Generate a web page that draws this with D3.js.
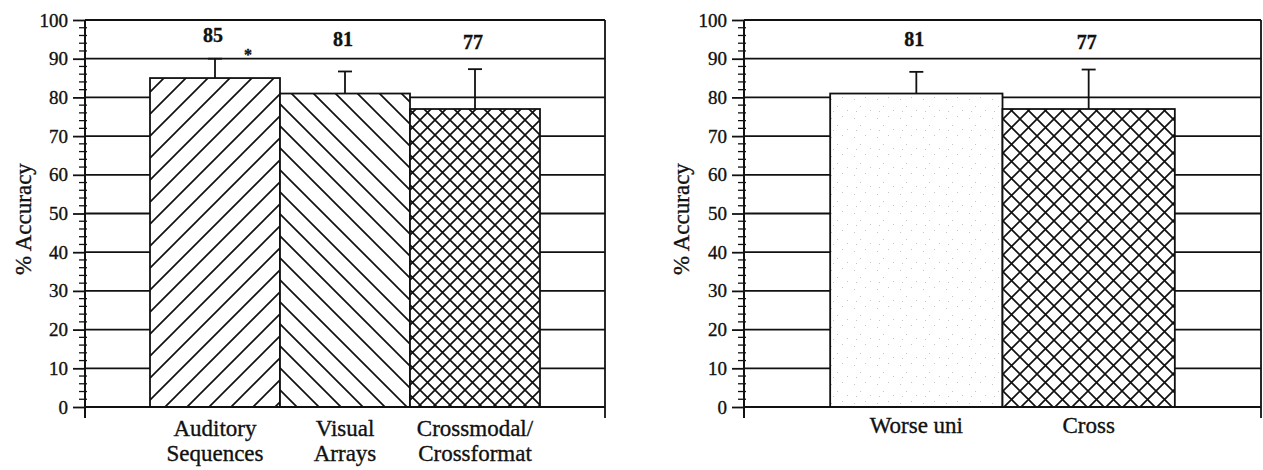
<!DOCTYPE html>
<html>
<head>
<meta charset="utf-8">
<script src="https://cdn.jsdelivr.net/npm/d3@7"></script>
<style>
  body { margin: 0; background: #fff; }
  svg { display: block; }
  svg text { font-family: "Liberation Serif", Tinos, "Times New Roman", Times, "DejaVu Serif", serif !important; fill: #111; stroke: #111; stroke-width: 0.35px; }
</style>
</head>
<body>
<svg id="chart" width="1263" height="470"></svg>
<script>
// data
const leftCategories = [["Auditory", "Sequences"], ["Visual", "Arrays"], ["Crossmodal/", "Crossformat"]];
const leftValues = [85, 81, 77];
const leftErrors = [5, 5.7, 10.3];
const leftFills = ["hatchUp", "hatchDown", "cross"];

const rightCategories = [["Worse uni"], ["Cross"]];
const rightValues = [81, 77];
const rightErrors = [5.6, 10.2];
const rightFills = ["speckle", "cross2"];

const yTicks = [0, 10, 20, 30, 40, 50, 60, 70, 80, 90, 100];
const yMinor = d3.range(0, 101, 2).filter(d => d % 10 !== 0);

const svg = d3.select("#chart");
const ink = "#111";
const serif = "'Liberation Serif', Tinos, 'Times New Roman', Times, 'DejaVu Serif', serif";

// patterns
const defs = svg.append("defs");
function hatch(id, p, d) {
  defs.append("pattern")
    .attr("id", id)
    .attr("patternUnits", "userSpaceOnUse")
    .attr("width", p).attr("height", p)
    .call(g => g.append("rect").attr("width", p).attr("height", p).attr("fill", "#fff"))
    .append("path")
    .attr("d", d)
    .attr("stroke", ink)
    .attr("stroke-width", 1.7)
    .attr("fill", "none");
}
function crossPath(c) {
  return `M0,${c} L${c},0 M-2,2 L2,-2 M${c - 2},${c + 2} L${c + 2},${c - 2} M0,0 L${c},${c} M-2,${c - 2} L2,${c + 2} M${c - 2},-2 L${c + 2},2`;
}
const p = 22;
hatch("hatchUp", p, `M0,${p} L${p},0 M-2,2 L2,-2 M${p - 2},${p + 2} L${p + 2},${p - 2}`);
hatch("hatchDown", p, `M0,0 L${p},${p} M-2,${p - 2} L2,${p + 2} M${p - 2},-2 L${p + 2},2`);
hatch("cross", 15, crossPath(15));
hatch("cross2", 17, crossPath(17));

const speck = defs.append("pattern")
  .attr("id", "speckle")
  .attr("patternUnits", "userSpaceOnUse")
  .attr("width", 23).attr("height", 19);
speck.append("rect").attr("width", 23).attr("height", 19).attr("fill", "#fff");
[[3, 4], [14, 2], [9, 11], [19, 15], [5, 16]].forEach(([x, y]) =>
  speck.append("rect").attr("x", x).attr("y", y).attr("width", 1).attr("height", 1).attr("fill", "#c4c4c4"));

function panel(opts) {
  const { x0, x1, categories, values, errors, fills, titleX } = opts;
  const g = svg.append("g").attr("font-family", serif);

  const y = d3.scaleLinear().domain([0, 100]).range([407, 20]);
  const x = d3.scaleBand()
    .domain(values.map((d, i) => i))
    .range([x0, x1])
    .paddingInner(0)
    .paddingOuter(0.5);

  // gridlines (top one doubles as frame)
  g.append("g").selectAll("line")
    .data(yTicks.filter(d => d > 0))
    .join("line")
    .attr("x1", x0).attr("x2", x1)
    .attr("y1", d => y(d)).attr("y2", d => y(d))
    .attr("stroke", ink).attr("stroke-width", 1.8);

  // right frame
  g.append("line")
    .attr("x1", x1).attr("x2", x1)
    .attr("y1", y(100)).attr("y2", y(0) + 11)
    .attr("stroke", ink).attr("stroke-width", 1.8);

  // bars
  g.append("g").selectAll("rect")
    .data(values)
    .join("rect")
    .attr("x", (d, i) => x(i))
    .attr("width", x.bandwidth())
    .attr("y", d => y(d))
    .attr("height", d => y(0) - y(d))
    .attr("fill", (d, i) => `url(#${fills[i]})`)
    .attr("stroke", ink)
    .attr("stroke-width", 1.8);

  // error bars
  const eb = g.append("g").selectAll("g")
    .data(values)
    .join("g")
    .attr("transform", (d, i) => `translate(${x(i) + x.bandwidth() / 2},0)`);
  eb.append("line")
    .attr("y1", d => y(d)).attr("y2", (d, i) => y(d + errors[i]))
    .attr("stroke", ink).attr("stroke-width", 1.8);
  eb.append("line")
    .attr("x1", -7).attr("x2", 7)
    .attr("y1", (d, i) => y(d + errors[i])).attr("y2", (d, i) => y(d + errors[i]))
    .attr("stroke", ink).attr("stroke-width", 1.8);

  // value labels
  g.append("g").selectAll("text")
    .data(values)
    .join("text")
    .attr("x", (d, i) => x(i) + x.bandwidth() / 2 - 2)
    .attr("y", d => y(100) + 22 + (85 - d) * 0.9)
    .attr("text-anchor", "middle")
    .attr("font-size", 20)
    .attr("font-weight", "bold")
    .text(d => d);

  // y axis
  const axis = g.append("g")
    .attr("transform", `translate(${x0},0)`)
    .call(d3.axisLeft(y).tickValues(yTicks).tickSizeInner(12).tickSizeOuter(0).tickPadding(5));
  axis.attr("font-family", serif).attr("font-size", 19);
  axis.select(".domain").remove();
  axis.selectAll(".tick line").attr("stroke", ink).attr("stroke-width", 1.8);
  axis.selectAll(".tick text").attr("fill", ink);

  g.append("g").selectAll("line")
    .data(yMinor)
    .join("line")
    .attr("x1", x0 - 6).attr("x2", x0 + 2)
    .attr("y1", d => y(d)).attr("y2", d => y(d))
    .attr("stroke", ink).attr("stroke-width", 1.3);

  g.append("line")
    .attr("x1", x0).attr("x2", x0)
    .attr("y1", y(100)).attr("y2", y(0) + 11)
    .attr("stroke", ink).attr("stroke-width", 2);

  // baseline
  g.append("line")
    .attr("x1", x0).attr("x2", x1)
    .attr("y1", y(0)).attr("y2", y(0))
    .attr("stroke", ink).attr("stroke-width", 2.2);

  // category labels
  const cat = g.append("g").selectAll("text")
    .data(categories)
    .join("text")
    .attr("x", (d, i) => x(i) + x.bandwidth() / 2)
    .attr("y", d => d.length > 1 ? 436 : 433)
    .attr("text-anchor", "middle")
    .attr("font-size", 23);
  cat.selectAll("tspan")
    .data(d => d)
    .join("tspan")
    .attr("x", function () { return this.parentNode.getAttribute("x"); })
    .attr("dy", (d, i) => i === 0 ? 0 : 25)
    .text(d => d);

  // y title
  g.append("text")
    .attr("transform", `translate(${titleX},219) rotate(-90)`)
    .attr("text-anchor", "middle")
    .attr("font-size", 23)
    .text("% Accuracy");

  return { x, y };
}

panel({
  x0: 85, x1: 605,
  categories: leftCategories, values: leftValues, errors: leftErrors, fills: leftFills,
  titleX: 31
});

panel({
  x0: 744, x1: 1261,
  categories: rightCategories, values: rightValues, errors: rightErrors, fills: rightFills,
  titleX: 689
});

// small asterisk next to the first bar
svg.append("text")
  .attr("x", 248).attr("y", 60)
  .attr("font-size", 16)
  .attr("font-weight", "bold")
  .attr("text-anchor", "middle")
  .text("*");
</script>
</body>
</html>
